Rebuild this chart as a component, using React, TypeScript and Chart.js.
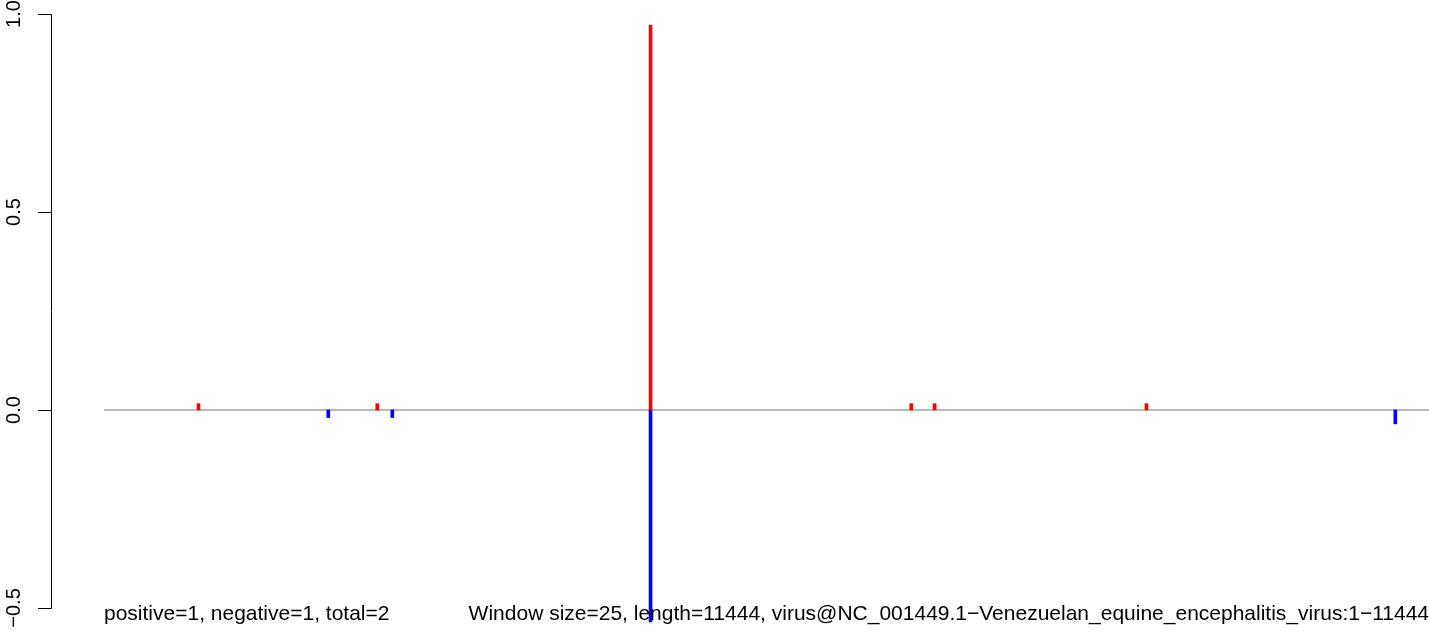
import React, { useEffect, useRef } from 'react';
import { Chart, registerables } from 'chart.js';

Chart.register(...registerables);

// Data
const seqStart = 1;
const seqLength = 11444;
const posX = [817, 2361, 4721, 6973, 7174, 9004];
const posY = [0.016, 0.016, 0.972, 0.016, 0.016, 0.016];
const negX = [1938, 2491, 4721, 11153];
const negY = [-0.019, -0.019, -0.535, -0.035];
const yTicks = [-0.5, 0, 0.5, 1.0];
const yTickLabels = ['\u22120.5', '0.0', '0.5', '1.0'];
const leftNote = 'positive=1, negative=1, total=2';
const rightNote =
  'Window size=25, length=11444, virus@NC_001449.1\u2212Venezuelan_equine_encephalitis_virus:1\u221211444';

const FONT = "'Liberation Sans', Arial, Helvetica, sans-serif";

const W = 1429;
const H = 634;

const axisPlugin = {
  id: 'rAxis',
  afterDraw(chart: any) {
    const ctx = chart.ctx;
    const y = chart.scales.y;
    const x = chart.scales.x;
    const axisX = chart.chartArea.left;
    const yTop = y.getPixelForValue(yTicks[yTicks.length - 1]);
    const yBot = y.getPixelForValue(yTicks[0]);
    ctx.save();
    ctx.strokeStyle = '#000';
    ctx.lineWidth = 1;
    ctx.beginPath();
    ctx.moveTo(axisX + 0.5, Math.round(yTop) + 0.5);
    ctx.lineTo(axisX + 0.5, Math.round(yBot) + 0.5);
    yTicks.forEach((v) => {
      const py = Math.round(y.getPixelForValue(v)) + 0.5;
      ctx.moveTo(axisX + 0.5, py);
      ctx.lineTo(axisX - 13, py);
    });
    ctx.stroke();
    ctx.fillStyle = '#000';
    ctx.font = `20px ${FONT}`;
    ctx.textAlign = 'center';
    ctx.textBaseline = 'middle';
    yTicks.forEach((v, i) => {
      const py = y.getPixelForValue(v);
      ctx.save();
      ctx.translate(14, py);
      ctx.rotate(-Math.PI / 2);
      ctx.fillText(yTickLabels[i], 0, 0);
      ctx.restore();
    });
    // notes
    ctx.font = `21px ${FONT}`;
    ctx.textBaseline = 'middle';
    const ny = y.getPixelForValue(yTicks[0]) + 6;
    ctx.textAlign = 'left';
    ctx.fillText(leftNote, x.getPixelForValue(seqStart), ny);
    ctx.textAlign = 'right';
    ctx.fillText(rightNote, x.getPixelForValue(seqLength), ny);
    ctx.restore();
  },
};

export default function App() {
  const ref = useRef<HTMLCanvasElement | null>(null);
  useEffect(() => {
    document.body.style.margin = '0';
    const canvas = ref.current;
    if (!canvas) return;
    const xMin = seqStart - 0.04 * (seqLength - seqStart);
    const chart = new Chart(canvas, {
      type: 'bar',
      data: {
        datasets: [
          {
            type: 'bar',
            data: posX.map((v, i) => ({ x: v, y: posY[i] })),
            backgroundColor: '#FF0000',
            borderWidth: 0,
            barThickness: 3,
            grouped: false,
            order: 0,
          } as any,
          {
            type: 'bar',
            data: negX.map((v, i) => ({ x: v, y: negY[i] })),
            backgroundColor: '#0000FF',
            borderWidth: 0,
            barThickness: 3,
            grouped: false,
            order: 0,
          } as any,
          {
            type: 'line',
            data: [
              { x: seqStart, y: 0 },
              { x: seqLength, y: 0 },
            ],
            borderColor: '#a0a0a0',
            borderWidth: 1.5,
            pointRadius: 0,
            fill: false,
            order: 5,
          } as any,
        ],
      },
      options: {
        animation: false,
        responsive: false,
        devicePixelRatio: 1,
        layout: { padding: { left: 51, right: 0, top: 0, bottom: 0 } },
        plugins: {
          legend: { display: false },
          tooltip: { enabled: false },
          title: { display: false },
        },
        scales: {
          x: {
            type: 'linear',
            min: xMin,
            max: seqLength,
            offset: false,
            display: false,
          },
          y: {
            type: 'linear',
            min: -0.5657,
            max: 1.0354,
            display: false,
          },
        },
      },
      plugins: [axisPlugin],
    });
    return () => chart.destroy();
  }, []);
  return (
    <div style={{ width: W, height: H, background: '#fff' }}>
      <canvas ref={ref} width={W} height={H} />
    </div>
  );
}
